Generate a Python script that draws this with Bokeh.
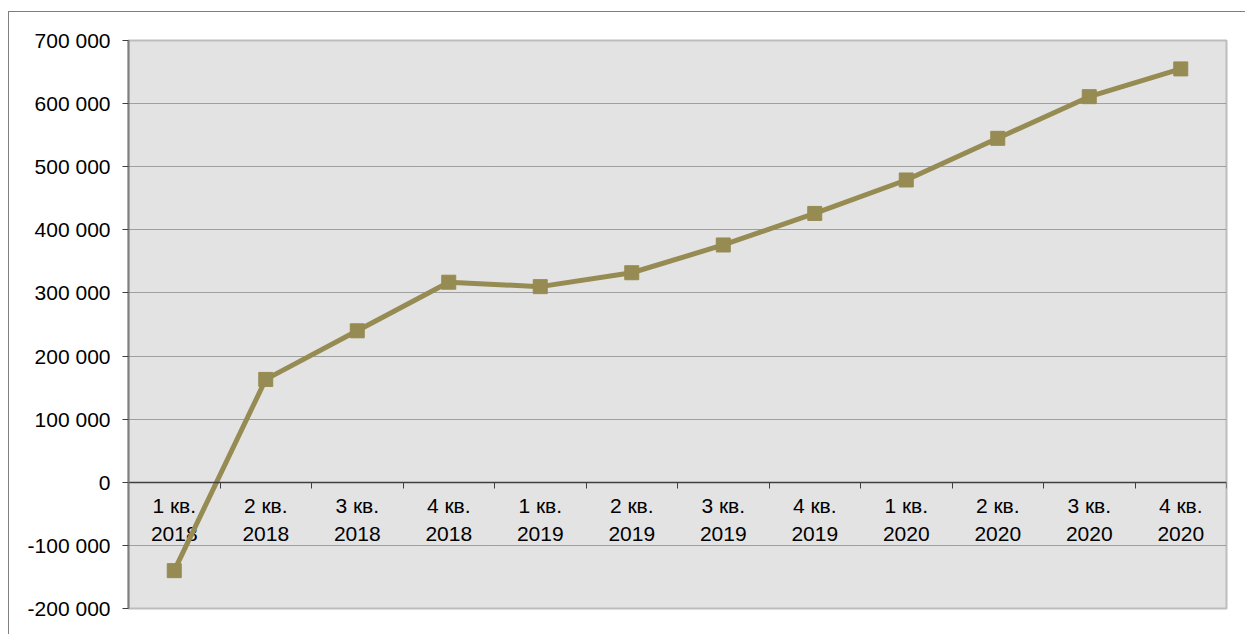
from bokeh.plotting import figure
from bokeh.models import Range1d, FixedTicker, ColumnDataSource
from bokeh.layouts import column
from bokeh.core.properties import value
from bokeh.embed import file_html
from bokeh.resources import INLINE

# ---- data ----
categories = ["1 кв.\n2018", "2 кв.\n2018", "3 кв.\n2018", "4 кв.\n2018",
              "1 кв.\n2019", "2 кв.\n2019", "3 кв.\n2019", "4 кв.\n2019",
              "1 кв.\n2020", "2 кв.\n2020", "3 кв.\n2020", "4 кв.\n2020"]
values = [-140000, 163000, 240000, 317000, 310000, 332000,
          376000, 426000, 479000, 545000, 611000, 655000]
y_ticks = [-200000, -100000, 0, 100000, 200000, 300000, 400000, 500000, 600000, 700000]
y_tick_labels = ["-200 000", "-100 000", "0", "100 000", "200 000", "300 000",
                 "400 000", "500 000", "600 000", "700 000"]

FONT = "Liberation Sans"
LINE_COLOR = "#968b52"

xs = [i + 0.5 for i in range(len(categories))]
src = ColumnDataSource(dict(x=xs, y=values, label=categories, zero=[0] * len(xs)))

p = figure(width=1236, height=622, output_backend="svg", toolbar_location=None,
           x_range=Range1d(0, len(categories)), y_range=Range1d(y_ticks[0], y_ticks[-1]),
           min_border_left=119, min_border_right=19, min_border_top=28, min_border_bottom=26)
p.background_fill_color = "#e3e3e3"
p.border_fill_color = "white"
p.outline_line_color = "#bdbdbd"
p.outline_line_width = 2

# y axis
p.yaxis.ticker = FixedTicker(ticks=y_ticks)
p.yaxis.major_label_overrides = {t: l for t, l in zip(y_ticks, y_tick_labels)}
p.yaxis.major_label_text_font = FONT
p.yaxis.major_label_text_font_size = "21px"
p.yaxis.major_label_text_color = "black"
p.yaxis.major_label_standoff = 12
p.yaxis.axis_line_color = "#7f7f7f"
p.yaxis.axis_line_width = 2
p.yaxis.major_tick_in = 0
p.yaxis.major_tick_out = 6
p.yaxis.major_tick_line_color = "#404040"
p.yaxis.minor_tick_line_color = None

# x axis at zero
p.xaxis.fixed_location = 0
p.xaxis.ticker = FixedTicker(ticks=list(range(1, len(categories) + 1)))
p.xaxis.major_label_text_font_size = "0px"
p.xaxis.major_label_text_alpha = 0
p.xaxis.axis_line_color = "#404040"
p.xaxis.axis_line_width = 1.5
p.xaxis.major_tick_in = 0
p.xaxis.major_tick_out = 6
p.xaxis.major_tick_line_color = "#404040"
p.xaxis.minor_tick_line_color = None

# grid
p.xgrid.visible = False
p.ygrid.ticker = FixedTicker(ticks=[t for t in y_ticks if t not in (0, y_ticks[0], y_ticks[-1])])
p.ygrid.grid_line_color = "#5a5a5a"
p.ygrid.grid_line_dash = "1 1"
p.ygrid.grid_line_width = 1

# category labels
p.text(x="x", y="zero", text="label", source=src, text_font=value(FONT),
       text_font_size="21px", text_align="center", text_baseline="top",
       text_line_height=1.2, y_offset=12, text_color="black")

# series
p.line(x="x", y="y", source=src, line_color=LINE_COLOR, line_width=5)
p.scatter(x="x", y="y", source=src, marker="square", size=14,
          fill_color=LINE_COLOR, line_color=LINE_COLOR)

layout = column(p, margin=(11, 0, 0, 8),
                styles={"border-top": "1.5px solid #7f7f7f",
                        "border-left": "1.5px solid #7f7f7f"})

open("out.html", "w").write(file_html(layout, INLINE))
